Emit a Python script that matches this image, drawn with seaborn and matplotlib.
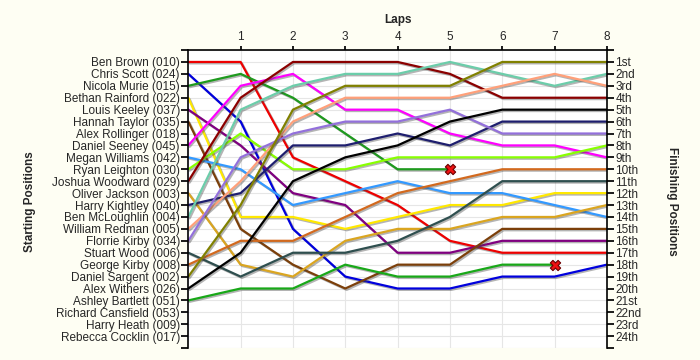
import numpy as np
import pandas as pd
import matplotlib
matplotlib.use('Agg')
import matplotlib.pyplot as plt
import matplotlib.patheffects as pe
import seaborn as sns

## ---------------------------------------- datos ----------------------------------------
starting_names = [
    'Ben Brown (010)', 'Chris Scott (024)', 'Nicola Murie (015)', 'Bethan Rainford (022)',
    'Louis Keeley (037)', 'Hannah Taylor (035)', 'Alex Rollinger (018)', 'Daniel Seeney (045)',
    'Megan Williams (042)', 'Ryan Leighton (030)', 'Joshua Woodward (029)', 'Oliver Jackson (003)',
    'Harry Kightley (040)', 'Ben McLoughlin (004)', 'William Redman (005)', 'Florrie Kirby (034)',
    'Stuart Wood (006)', 'George Kirby (008)', 'Daniel Sargent (002)', 'Alex Withers (026)',
    'Ashley Bartlett (051)', 'Richard Cansfield (053)', 'Harry Heath (009)', 'Rebecca Cocklin (017)',
]
finishing_labels = ['1st', '2nd', '3rd'] + [f'{i}th' for i in range(4, 21)] + ['21st', '22nd', '23rd', '24th']
laps = list(range(0, 9))

drivers = [
    'Ben Brown (010)', 'Chris Scott (024)', 'Nicola Murie (015)', 'Bethan Rainford (022)',
    'Louis Keeley (037)', 'Hannah Taylor (035)', 'Daniel Seeney (045)', 'Megan Williams (042)',
    'Ryan Leighton (030)', 'Joshua Woodward (029)', 'Oliver Jackson (003)', 'Harry Kightley (040)',
    'Ben McLoughlin (004)', 'William Redman (005)', 'Florrie Kirby (034)', 'Stuart Wood (006)',
    'George Kirby (008)', 'Daniel Sargent (002)', 'Alex Withers (026)', 'Ashley Bartlett (051)',
]
driver_colors = [
    '#EE0000', '#0000DD', '#1E9A1E', '#FFE800', '#800080', '#7B3F0A', '#FF00FF', '#3399FF',
    '#88FF00', '#8B0000', '#DAA520', '#1E1E6E', '#6CCDAA', '#FFA07A', '#9370DB', '#2F4F4F',
    '#D2691E', '#808000', '#000000', '#18A818',
]
# posicion en cada vuelta (vuelta 0 = salida)
positions = [
    [1, 1, 9, 11, 13, 16, 17, 17, 17],
    [2, 6, 15, 19, 20, 20, 19, 19, 18],
    [3, 2, 4, 7, 10, 10],
    [4, 14, 14, 15, 14, 13, 13, 12, 12],
    [5, 8, 12, 13, 17, 17, 16, 16, 16],
    [6, 15, 18, 20, 18, 18, 15, 15, 15],
    [8, 3, 2, 5, 5, 7, 8, 8, 9],
    [9, 10, 13, 12, 11, 12, 12, 13, 14],
    [10, 7, 10, 10, 9, 9, 9, 9, 8],
    [11, 4, 1, 1, 1, 2, 4, 4, 4],
    [12, 18, 19, 16, 15, 15, 14, 14, 13],
    [13, 12, 8, 8, 7, 8, 6, 6, 6],
    [14, 5, 3, 2, 2, 1, 2, 3, 2],
    [15, 11, 6, 4, 4, 4, 3, 2, 3],
    [16, 9, 7, 6, 6, 5, 7, 7, 7],
    [17, 19, 17, 17, 16, 14, 11, 11, 11],
    [18, 16, 16, 14, 12, 11, 10, 10, 10],
    [19, 13, 5, 3, 3, 3, 1, 1, 1],
    [20, 17, 11, 9, 8, 6, 5, 5, 5],
    [21, 20, 20, 18, 19, 19, 18, 18],
]
retired_drivers = ['Nicola Murie (015)', 'Ashley Bartlett (051)']

## ---------------------------------------- tabla ----------------------------------------
rows = []
for name, pos in zip(drivers, positions):
    for lap, p in zip(laps, pos):
        rows.append({'driver': name, 'lap': lap, 'pos': p})
df = pd.DataFrame(rows)
# ultimo punto de los retirados
ret = df[df['driver'].isin(retired_drivers)].groupby('driver').tail(1)

## ---------------------------------------- grafico ----------------------------------------
sns.set_theme(style='white')
plt.rcParams['font.family'] = ['Liberation Sans', 'DejaVu Sans']

bg = '#FEFEF3'
fig = plt.figure(figsize=(7, 3.6), dpi=100, facecolor=bg)
ax = fig.add_axes([0.269, 0.033, 0.598, 0.828])
ax.set_facecolor('white')

shadow = [pe.SimpleLineShadow(offset=(1.0, -1.0), shadow_color='#444444', alpha=0.4), pe.Normal()]
sns.lineplot(data=df, x='lap', y='pos', hue='driver', hue_order=drivers,
             palette=dict(zip(drivers, driver_colors)), sort=False, estimator=None,
             lw=1.6, legend=False, path_effects=shadow, ax=ax)
sns.scatterplot(data=ret, x='lap', y='pos', marker='X', s=55, color='#EE1111',
                edgecolor='#6B0000', linewidth=0.8, zorder=5, legend=False, ax=ax)

ax.set_xlim(0, 8)
ax.set_ylim(25, 0)
ax.xaxis.tick_top()
ax.xaxis.set_label_position('top')
ax.set_xticks(range(1, 9))
ax.set_xlabel('Laps', fontweight='bold', fontsize=8.5, labelpad=6)
ax.set_yticks(range(0, 26))
ax.set_yticklabels([''] + starting_names + [''], fontsize=8.5)
ax.set_ylabel('')
ax.tick_params(axis='x', top=True, length=3, pad=2, labelsize=8.5, color='black')
ax.tick_params(axis='y', left=True, length=5, pad=1, color='black')
ax.grid(True, color='#E6E6E6', lw=0.8)
ax.set_axisbelow(True)
for s in ['left', 'top', 'right']:
    ax.spines[s].set_color('black')
    ax.spines[s].set_linewidth(1.2)
ax.spines['bottom'].set_visible(False)

ax2 = ax.twinx()
ax2.set_ylim(25, 0)
ax2.set_yticks(range(0, 26))
ax2.set_yticklabels([''] + finishing_labels + [''], fontsize=8.5)
ax2.tick_params(axis='y', right=True, length=5, pad=1, color='black')
ax2.grid(False)
for s in ['left', 'top', 'right', 'bottom']:
    ax2.spines[s].set_visible(False)

fig.text(30 / 700, 0.44, 'Starting Positions', rotation=90, fontweight='bold',
         fontsize=8.5, ha='center', va='center')
fig.text(672 / 700, 0.44, 'Finishing Positions', rotation=270, fontweight='bold',
         fontsize=8.5, ha='center', va='center')

plt.savefig('out.png', dpi=100, facecolor=bg)
